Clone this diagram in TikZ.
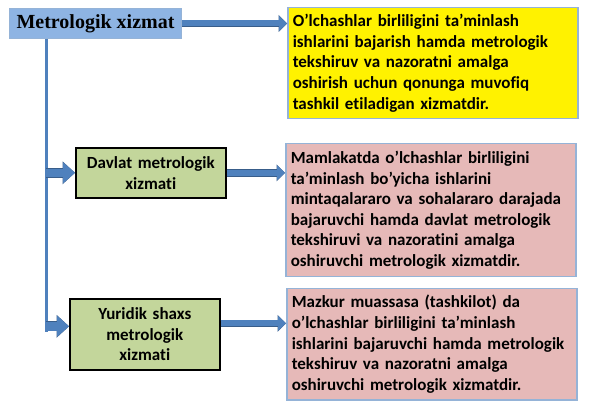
\documentclass[tikz,border=0pt]{standalone}
\usepackage{fontspec}
\setmainfont{Carlito}[Ligatures=NoCommon,WordSpace=0.8]
\newfontfamily\titlefont{Liberation Serif}
\usetikzlibrary{arrows.meta}

\definecolor{titleblue}{HTML}{8EB4E3}
\definecolor{edgeblue}{HTML}{95B3D7}
\definecolor{arrowblue}{HTML}{4F81BD}
\definecolor{arrowdark}{HTML}{385D8A}
\definecolor{greenfill}{HTML}{C3D69B}
\definecolor{pinkfill}{HTML}{E6B9B8}

\begin{document}
\begin{tikzpicture}[x=1pt,y=-1pt]
\tikzstyle{every node}=[font=\bfseries\fontsize{17}{20.6}\selectfont]
\tikzstyle{infobox}=
[
	draw=edgeblue, line width=1.5pt, rectangle,
	anchor=north west, inner xsep=5pt,
	text width=280pt, align=left
]
\tikzstyle{kindbox}=
[
	draw=black, line width=1.6pt, rectangle, fill=greenfill,
	anchor=north west, inner xsep=2pt,
	text width=146pt, align=center
]
\tikzstyle{flow}=
[
	arrowblue, line width=6pt, -{Triangle[length=8pt,width=15pt,line width=0pt]},
	preaction={draw=arrowdark, line width=7.5pt, -{Triangle[length=8.5pt,width=17pt,line width=0pt]}}
]
\tikzstyle{feed}=
[
	arrowblue, line width=8.5pt, -{Triangle[length=12pt,width=21pt,line width=0pt]},
	preaction={draw=arrowdark, line width=10pt, -{Triangle[length=12.5pt,width=23pt,line width=0pt]}}
]

\useasboundingbox[fill=white] (0,0) rectangle (592,406);

\node[draw=edgeblue, line width=1pt, fill=titleblue, anchor=north west,
	minimum width=172pt, minimum height=30pt, inner sep=0pt,
	font=\titlefont\bfseries\fontsize{20}{22}\selectfont] (title) at (9,8) {Metrologik xizmat};

\node[infobox, fill=yellow, minimum height=111pt] (info) at (287,7)
	{O’lchashlar birliligini ta’minlash\\ ishlarini bajarish hamda metrologik\\ tekshiruv va nazoratni amalga\\ oshirish uchun qonunga muvofiq\\ tashkil etiladigan xizmatdir.};
\node[infobox, fill=pinkfill, minimum height=133pt] (davlatinfo) at (285,143)
	{Mamlakatda o’lchashlar birliligini\\ ta’minlash bo’yicha ishlarini\\ mintaqalararo va sohalararo darajada\\ bajaruvchi hamda davlat metrologik\\ tekshiruvi va nazoratini amalga\\ oshiruvchi metrologik xizmatdir.};
\node[infobox, fill=pinkfill, minimum height=111pt] (yuridikinfo) at (286,288)
	{Mazkur muassasa (tashkilot) da\\ o’lchashlar birliligini ta’minlash\\ ishlarini bajaruvchi hamda metrologik\\ tekshiruv va nazoratni amalga\\ oshiruvchi metrologik xizmatdir.};

\node[kindbox, minimum height=50pt] (davlat) at (75,147) {Davlat metrologik\\ xizmati};
\node[kindbox, minimum height=71pt] (yuridik) at (69,298) {Yuridik shaxs\\ metrologik\\ xizmati};

% trunk from the title down to the second service
\coordinate (top) at ([xshift=37pt]title.south west);
\coordinate (bot) at (top |- 0,332);
\draw[arrowblue, line width=3pt] (top) -- (bot);

\draw[flow] (title.east) -- (title.east -| info.west);
\draw[feed] (top |- davlat.west) -- (davlat.west);
\draw[feed] ([yshift=8pt]top |- yuridik.west) -- ([yshift=8pt]yuridik.west);
\draw[flow] (davlat.east) -- (davlat.east -| davlatinfo.west);
\draw[flow] ([yshift=11pt]yuridik.east) -- ([yshift=11pt]yuridik.east -| yuridikinfo.west);
\end{tikzpicture}
\end{document}
